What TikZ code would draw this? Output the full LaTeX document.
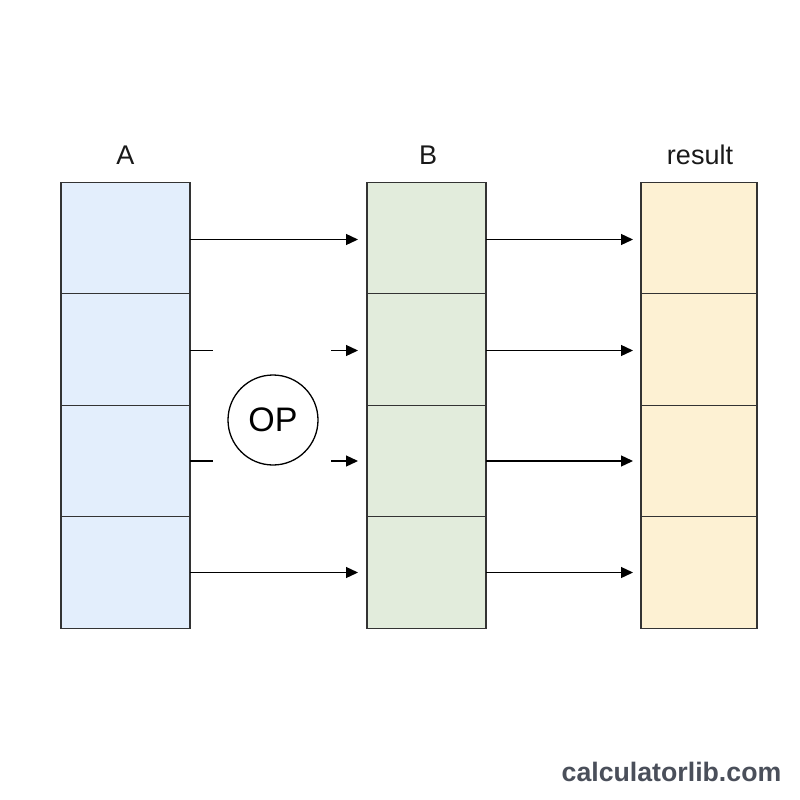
\documentclass[tikz,border=0pt]{standalone}
\usepackage{fontspec}
\setmainfont{Liberation Sans}
\usetikzlibrary{arrows.meta}
\definecolor{abl}{HTML}{E3EEFC}
\definecolor{bgr}{HTML}{E2ECDC}
\definecolor{ryl}{HTML}{FDF1D3}
\definecolor{edge}{HTML}{333333}
\definecolor{wm}{HTML}{4A4F5A}
\tikzset{
  cell/.style={draw=edge, line width=1.3pt, inner sep=0pt, outer sep=0pt, minimum height=111.5pt},
  acell/.style={cell, fill=abl, minimum width=129pt},
  bcell/.style={cell, fill=bgr, minimum width=119pt},
  rcell/.style={cell, fill=ryl, minimum width=116pt},
  lbl/.style={font=\fontsize{27}{31}\selectfont, text=black!90},
  arr/.style={line width=1.3pt, -{Triangle[length=12pt,width=11pt]}, shorten >=9pt},
  stub/.style={line width=1.3pt},
  opc/.style={draw=black, line width=1.3pt, circle, minimum size=90pt, inner sep=0pt, font=\fontsize{34}{40}\selectfont}
}
\begin{document}
\begin{tikzpicture}[x=1pt,y=-1pt]
\useasboundingbox[fill=white] (0,0) rectangle (800,800);
% columns
\foreach \i/\y in {1/238,2/349.5,3/461,4/572.5}{
  \node[acell] (a\i) at (125.5,\y) {};
  \node[bcell] (b\i) at (426.5,\y) {};
  \node[rcell] (r\i) at (699,\y) {};
}
\node[lbl] (la) at (125.5,155) {A};
\node[lbl] (lb) at (428,155) {B};
\node[lbl] (lr) at (700,155) {result};
% A -> B
\draw[arr] ([yshift=-1.5pt]a1.east) -- ([yshift=-1.5pt]b1.west);
\draw[arr] (a4.east) -- (b4.west);
\coordinate (s2) at ([xshift=23pt,yshift=-1pt]a2.east);
\coordinate (s3) at ([xshift=23pt]a3.east);
\coordinate (t2) at ([xshift=-36pt,yshift=-1pt]b2.west);
\coordinate (t3) at ([xshift=-36pt]b3.west);
\draw[stub] ([yshift=-1pt]a2.east) -- (s2);
\draw[stub] (a3.east) -- (s3);
\draw[arr] (t2) -- ([yshift=-1pt]b2.west);
\draw[arr] (t3) -- (b3.west);
% B -> result
\draw[arr, shorten >=8pt] ([yshift=-1.5pt]b1.east) -- ([yshift=-1.5pt]r1.west);
\draw[arr, shorten >=8pt] ([yshift=-1pt]b2.east) -- ([yshift=-1pt]r2.west);
\draw[arr, shorten >=8pt] (b3.east) -- (r3.west);
\draw[arr, shorten >=8pt] (b4.east) -- (r4.west);
\node[opc] (op) at (273,420) {OP};
\node[font=\bfseries\fontsize{26.7}{30}\selectfont, text=wm] (wm) at (671.5,772) {calculatorlib.com};
\end{tikzpicture}
\end{document}
